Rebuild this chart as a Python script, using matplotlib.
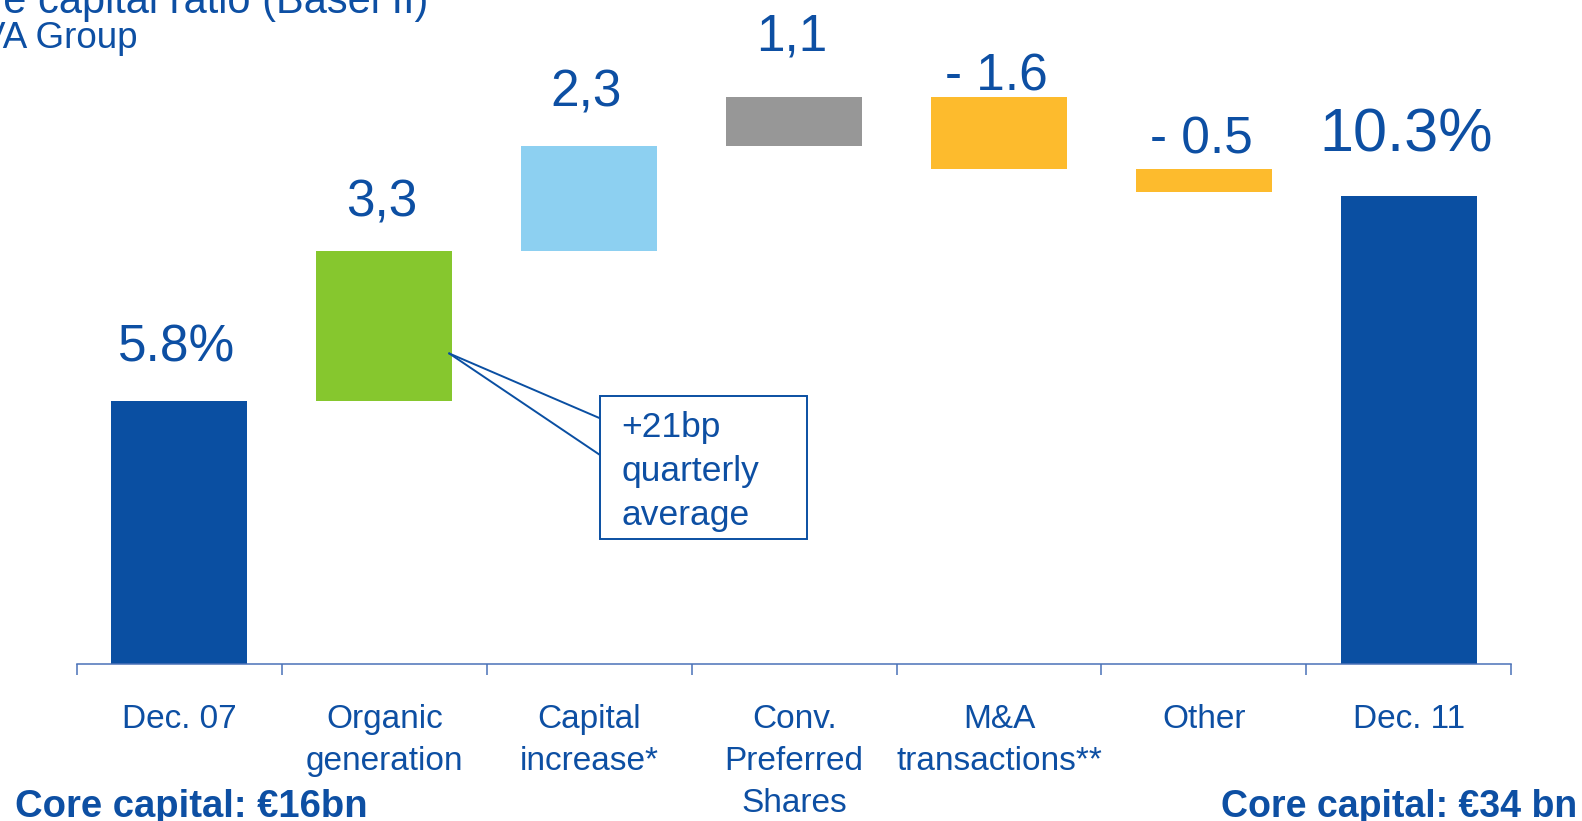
import matplotlib
matplotlib.use('Agg')
import matplotlib.pyplot as plt
import matplotlib.transforms as mtransforms
from matplotlib.patches import Rectangle

# Core capital ratio bridge, Dec. 07 -> Dec. 11 (percentage points)
categories = ['Dec. 07', 'Organic\ngeneration', 'Capital\nincrease*',
              'Conv.\nPreferred\nShares', 'M&A\ntransactions**', 'Other', 'Dec. 11']
values = [5.8, 3.3, 2.3, 1.1, -1.6, -0.5, 10.3]
value_labels = ['5.8%', '3,3', '2,3', '1,1', '- 1.6', '- 0.5', '10.3%']
kinds = ['total', 'step', 'step', 'step', 'step', 'step', 'total']

BLUE = '#0A4FA2'
TEXT = '#0D4FA3'
bar_colors = [BLUE, '#86C72E', '#8DD0F1', '#979797', '#FDBB2D', '#FDBB2D', BLUE]
label_sizes = [37, 37, 37, 37, 37, 37, 44]
label_gaps = [28, 24.5, 29, 33, 4, 11.5, 32]   # points between bar top and label baseline

plt.rcParams['font.family'] = ['Liberation Sans', 'DejaVu Sans']

# waterfall: running level
bottoms, heights = [], []
level = 0
for v, k in zip(values, kinds):
    if k == 'total':
        bottoms.append(0)
        heights.append(v)
        level = v
    else:
        bottoms.append(level if v >= 0 else level + v)
        heights.append(abs(v))
        level += v

fig = plt.figure(figsize=(15.82, 8.21), dpi=100)
ax = fig.add_axes([0.0487, 0.1912, 0.9065, 0.7742])
x = list(range(len(categories)))
ax.bar(x, heights, bottom=bottoms, width=0.664, color=bar_colors, zorder=2)

ax.set_xlim(-0.5, len(categories) - 0.5)
ax.set_ylim(0, 14)
for s in ['left', 'right', 'top']:
    ax.spines[s].set_visible(False)
ax.spines['bottom'].set_color('#4A72B8')
ax.spines['bottom'].set_linewidth(1.1)
ax.set_yticks([])
ax.set_xticks(x)
ax.set_xticklabels([])
ax.tick_params(axis='x', which='major', length=0)
ax.set_xticks([i - 0.5 for i in range(len(categories) + 1)], minor=True)
ax.tick_params(axis='x', which='minor', length=8, width=1.1, color='#4A72B8', direction='out')

# value labels above each bar
for i, (b, h) in enumerate(zip(bottoms, heights)):
    tr = mtransforms.offset_copy(ax.transData, fig=fig, x=-2, y=label_gaps[i], units='points')
    ax.text(i, b + h, value_labels[i], transform=tr, ha='center', va='baseline',
            fontsize=label_sizes[i], color=TEXT)

# category labels below axis, one line at a time
base = mtransforms.blended_transform_factory(ax.transData, ax.transAxes)
for i, cat in enumerate(categories):
    for j, line in enumerate(cat.split('\n')):
        tr = mtransforms.offset_copy(base, fig=fig, x=0, y=-(46 + 30.2 * j), units='points')
        ax.text(i, 0, line, transform=tr, ha='center', va='baseline',
                fontsize=24, color=TEXT, clip_on=False)

# callout for organic generation
apex = (1.317, 6.84)
ax.plot([apex[0], 2.054], [apex[1], 5.41], color=BLUE, lw=1.4, zorder=3, clip_on=False)
ax.plot([apex[0], 2.054], [apex[1], 4.60], color=BLUE, lw=1.4, zorder=3, clip_on=False)
ax.add_patch(Rectangle((2.054, 2.758), 1.009, 3.156, fill=True, facecolor='white',
                       edgecolor=BLUE, lw=1.4, zorder=4))
for j, line in enumerate(['+21bp', 'quarterly', 'average']):
    tr = mtransforms.offset_copy(ax.transData, fig=fig, x=0, y=-31.7 * j, units='points')
    ax.text(2.158, 5.007, line, transform=tr, ha='left', va='baseline',
            fontsize=25.5, color=TEXT, zorder=5)

# titles (partly cut off at the left edge, as in the slide)
fig.text(428 / 1582, 1 - 13 / 821, 'Core capital ratio (Basel II)', ha='right',
         va='baseline', fontsize=30, color=TEXT)
fig.text(138 / 1582, 1 - 48 / 821, 'BBVA Group', ha='right', va='baseline',
         fontsize=26.5, color=TEXT)

fig.text(15 / 1582, 4 / 821, 'Core capital: €16bn', ha='left', va='baseline',
         fontsize=27.5, fontweight='bold', color=TEXT)
fig.text(1577 / 1582, 4 / 821, 'Core capital: €34 bn', ha='right', va='baseline',
         fontsize=27, fontweight='bold', color=TEXT)

fig.savefig('out.png', dpi=100)
